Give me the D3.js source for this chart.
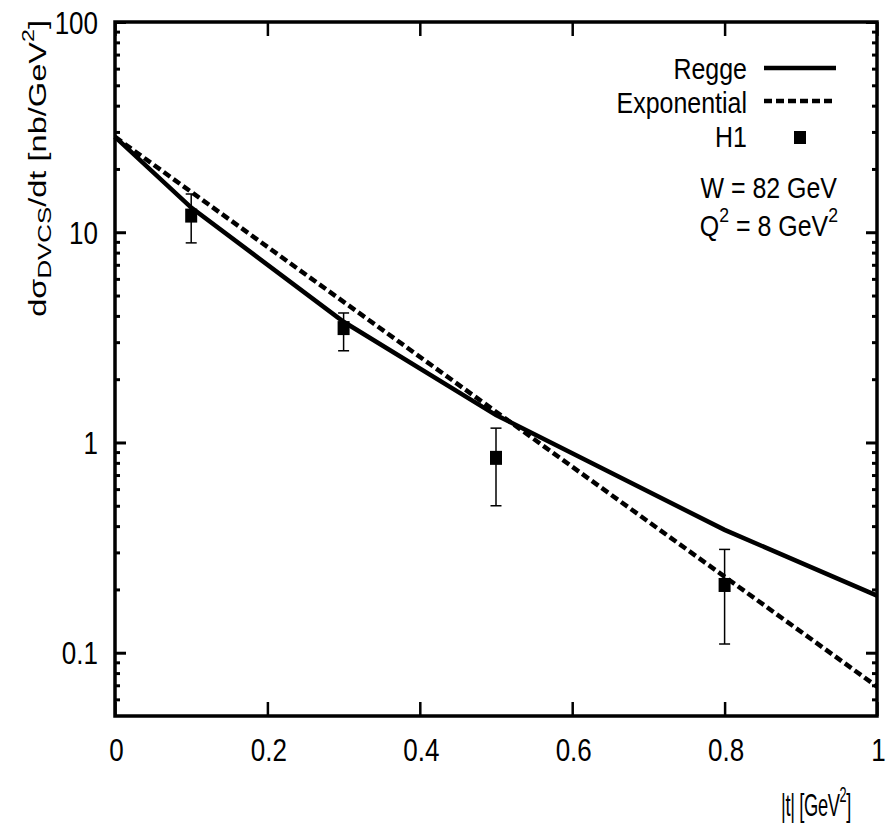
<!DOCTYPE html>
<html>
<head>
<meta charset="utf-8">
<script src="https://cdn.jsdelivr.net/npm/d3@7"></script>
<style>
  body { margin: 0; background: #fff; }
  svg text { font-family: "Liberation Sans", Arial, sans-serif; fill: #000; }
</style>
</head>
<body>
<svg width="886" height="825"></svg>
<script>
// values
let reggeT = [0, 0.1, 0.3, 0.5, 0.8, 1.0]
let reggeY = [28.4, 13.1, 3.75, 1.35, 0.384, 0.187]

let expT = [0, 0.5, 1.0]
let expY = [28.4, 1.40, 0.069]

let h1T = [0.1, 0.3, 0.5, 0.8]
let h1Y = [12, 3.5, 0.845, 0.21]
let h1Lo = [8.9, 2.73, 0.50, 0.11]
let h1Hi = [15.2, 4.13, 1.17, 0.31]

let xTicks = [0, 0.2, 0.4, 0.6, 0.8, 1]
let yTicks = [0.1, 1, 10, 100]

let plotLeft = 115, plotRight = 877, plotTop = 22, plotBottom = 716
let stretch = 1.2   // glyphs in the picture are taller than they are wide

let svg = d3.select('svg')

let xScale = d3.scaleLinear().domain([0, 1]).range([plotLeft, plotRight])
let yScale = d3.scaleLog().domain([0.05, 100]).range([plotBottom, plotTop])

let minorTicks = []
for (let d = 0.01; d < 100; d *= 10) {
  for (let m = 2; m <= 9; m++) {
    let v = +(m * d).toPrecision(3)
    if (v > 0.05 && v < 100) minorTicks.push(v)
  }
}

let styleAxis = (g, w) => {
  g.select('.domain').remove()
  g.selectAll('line').attr('stroke', '#000').attr('stroke-width', w)
}

// stretched horizontal text
let label = (parent, x, y, anchor, size, sx) => {
  return parent.append('text')
    .attr('transform', 'translate(' + x + ',' + y + ') scale(' + (sx || 1) + ',' + stretch + ')')
    .attr('text-anchor', anchor)
    .style('font-size', size + 'px')
}

// left axis
svg.append('g')
  .attr('transform', 'translate(' + plotLeft + ',0)')
  .call(d3.axisLeft(yScale).tickValues(yTicks).tickSize(-11)
    .tickFormat(d => d >= 1 ? d3.format('d')(d) : d))
  .call(g => styleAxis(g, 3))
  .call(g => g.selectAll('.tick text')
    .attr('x', 0).attr('dy', 0)
    .attr('transform', 'translate(-17,11) scale(1,' + stretch + ')')
    .style('font-size', '26px'))
svg.append('g')
  .attr('transform', 'translate(' + plotLeft + ',0)')
  .call(d3.axisLeft(yScale).tickValues(minorTicks).tickSize(-5).tickFormat(''))
  .call(g => styleAxis(g, 3))

// right axis
svg.append('g')
  .attr('transform', 'translate(' + plotRight + ',0)')
  .call(d3.axisRight(yScale).tickValues(yTicks).tickSize(-11).tickFormat(''))
  .call(g => styleAxis(g, 3))
svg.append('g')
  .attr('transform', 'translate(' + plotRight + ',0)')
  .call(d3.axisRight(yScale).tickValues(minorTicks).tickSize(-5).tickFormat(''))
  .call(g => styleAxis(g, 3))

// bottom axis
svg.append('g')
  .attr('transform', 'translate(0,' + plotBottom + ')')
  .call(d3.axisBottom(xScale).tickValues(xTicks).tickSize(-14).tickFormat(d => d))
  .call(g => styleAxis(g, 2.5))
  .call(g => g.selectAll('.tick text')
    .attr('y', 0).attr('dy', 0)
    .attr('transform', 'translate(1,45) scale(1,' + stretch + ')')
    .style('font-size', '26px'))

// top axis
svg.append('g')
  .attr('transform', 'translate(0,' + plotTop + ')')
  .call(d3.axisTop(xScale).tickValues(xTicks).tickSize(-14).tickFormat(''))
  .call(g => styleAxis(g, 2.5))

// frame
svg.append('rect')
  .attr('x', plotLeft).attr('y', plotTop)
  .attr('width', plotRight - plotLeft).attr('height', plotBottom - plotTop)
  .attr('fill', 'none').attr('stroke', '#000').attr('stroke-width', 3.5)

let plot = svg.append('g')

let line = d3.line()
  .x(d => xScale(d[0]))
  .y(d => yScale(d[1]))

plot.append('path')
  .datum(reggeT.map((t, i) => [t, reggeY[i]]))
  .attr('d', line)
  .attr('fill', 'none').attr('stroke', '#000').attr('stroke-width', 4.5)

plot.append('path')
  .datum(expT.map((t, i) => [t, expY[i]]))
  .attr('d', line)
  .attr('fill', 'none').attr('stroke', '#000').attr('stroke-width', 4.5)
  .attr('stroke-dasharray', '8,4')

// H1 points with error bars
let pts = h1T.map((t, i) => ({ t: t, y: h1Y[i], lo: h1Lo[i], hi: h1Hi[i] }))
let eb = plot.selectAll('.eb').data(pts).enter().append('g').attr('class', 'eb')
eb.append('line')
  .attr('x1', d => xScale(d.t)).attr('x2', d => xScale(d.t))
  .attr('y1', d => yScale(d.lo)).attr('y2', d => yScale(d.hi))
eb.append('line')
  .attr('x1', d => xScale(d.t) - 5.5).attr('x2', d => xScale(d.t) + 5.5)
  .attr('y1', d => yScale(d.lo)).attr('y2', d => yScale(d.lo))
eb.append('line')
  .attr('x1', d => xScale(d.t) - 5.5).attr('x2', d => xScale(d.t) + 5.5)
  .attr('y1', d => yScale(d.hi)).attr('y2', d => yScale(d.hi))
eb.selectAll('line').attr('stroke', '#000').attr('stroke-width', 1.5)
eb.append('rect')
  .attr('x', d => xScale(d.t) - 6).attr('y', d => yScale(d.y) - 7)
  .attr('width', 12).attr('height', 14).attr('fill', '#000')

// legend
let legend = svg.append('g')
label(legend, 747, 79, 'end', 24, 1.04).text('Regge')
legend.append('line').attr('x1', 764).attr('x2', 836).attr('y1', 68).attr('y2', 68)
  .attr('stroke', '#000').attr('stroke-width', 4.5)
label(legend, 747, 113, 'end', 24, 1.04).text('Exponential')
legend.append('line').attr('x1', 764).attr('x2', 836).attr('y1', 101).attr('y2', 101)
  .attr('stroke', '#000').attr('stroke-width', 4.5).attr('stroke-dasharray', '8,4')
label(legend, 747, 147, 'end', 24, 1.04).text('H1')
legend.append('rect').attr('x', 794).attr('y', 131).attr('width', 12).attr('height', 13).attr('fill', '#000')

label(legend, 837, 198, 'end', 24, 1.04).text('W = 82 GeV')
let q = label(legend, 838, 236, 'end', 24, 1.04)
q.append('tspan').text('Q')
q.append('tspan').attr('dy', -12).style('font-size', '17px').text('2')
q.append('tspan').attr('dy', 12).text(' = 8 GeV')
q.append('tspan').attr('dy', -12).style('font-size', '17px').text('2')

// axis titles
let xl = label(svg, 851, 816, 'end', 26, 1).style('letter-spacing', '-0.5px')
xl.append('tspan').text('|t| [GeV')
xl.append('tspan').attr('dy', -12).style('font-size', '18px').text('2')
xl.append('tspan').attr('dy', 12).text(']')
// the picture shows this title narrower than the other texts
let xlw = xl.node().getComputedTextLength()
xl.attr('transform', 'translate(851,816) scale(' + (70 / xlw) + ',' + stretch + ')')

let yl = svg.append('text')
  .attr('text-anchor', 'end').style('font-size', '24px')
yl.append('tspan').text('dσ')
yl.append('tspan').attr('dy', 5).style('font-size', '19px').text('DVCS')
yl.append('tspan').attr('dy', -5).text('/dt [nb/GeV')
yl.append('tspan').attr('dy', -12).style('font-size', '17px').text('2')
yl.append('tspan').attr('dy', 12).text(']')
let ylw = yl.node().getComputedTextLength()
yl.attr('transform', 'translate(46,20) rotate(-90) scale(' + (297 / ylw) + ',1)')
</script>
</body>
</html>
